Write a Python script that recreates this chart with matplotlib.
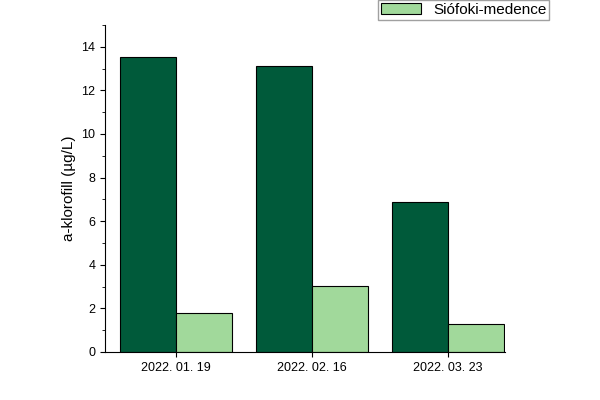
import matplotlib
matplotlib.use("Agg")
import matplotlib.pyplot as plt
import numpy as np
from matplotlib.ticker import MultipleLocator

dates = ["2022. 01. 19", "2022. 02. 16", "2022. 03. 23"]
dark_vals = [13.55, 13.1, 6.9]
light_vals = [1.8, 3.05, 1.3]

plt.rcParams['font.family'] = ['Liberation Sans', 'DejaVu Sans']
fig = plt.figure(figsize=(6, 4), dpi=100)
ax = fig.add_axes([105/600, 1-352/400, 400/600, 327/400])
x = np.arange(len(dates))
w = 0.41
ax.bar(x - w/2, dark_vals, w, color="#005a3a", edgecolor="black", linewidth=0.8)
bl = ax.bar(x + w/2, light_vals, w, color="#a1d99b", edgecolor="black", linewidth=0.8, label="Siófoki-medence")
ax.set_xlim(-0.52, 2.42)
ax.set_ylim(0, 15)
ax.yaxis.set_major_locator(MultipleLocator(2))
ax.yaxis.set_minor_locator(MultipleLocator(1))
ax.set_xticks(x)
ax.set_xticklabels(dates, fontsize=9)
ax.tick_params(axis='y', labelsize=9)
ax.set_ylabel("a-klorofill (µg/L)", fontsize=11)
ax.spines['top'].set_visible(False)
ax.spines['right'].set_visible(False)
leg = fig.legend(handles=[bl], loc="upper left", bbox_to_anchor=(378/600, 1.0), frameon=True,
                 fancybox=False, edgecolor="#888888", fontsize=11, handlelength=2.6,
                 borderpad=0.2, borderaxespad=0)
fig.savefig("out.png", dpi=100)
